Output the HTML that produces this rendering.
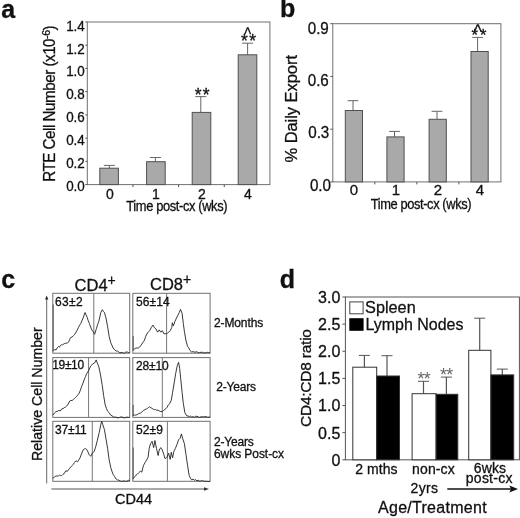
<!DOCTYPE html>
<html><head><meta charset="utf-8"><title>Figure</title>
<style>
html,body{margin:0;padding:0;background:#fff;}
svg text{stroke:#111;stroke-width:0.3px;}
svg{display:block;will-change:transform;font-family:"Liberation Sans",sans-serif;fill:#111;}
</style></head><body>
<svg width="520" height="518" viewBox="0 0 520 518">
<rect x="0" y="0" width="520" height="518" fill="#fff" stroke="none"/>
<text x="1.3" y="17.6" font-size="25" text-anchor="start" font-weight="bold">a</text>
<rect x="87.3" y="22.0" width="182.6" height="162.6" fill="none" stroke="#707070" stroke-width="1"/>
<line x1="85.3" y1="22.0" x2="87.3" y2="22.0" stroke="#555" stroke-width="1"/>
<text transform="translate(84.8 30.6) scale(0.926 1)" font-size="14.5" text-anchor="end">1.4</text>
<line x1="85.3" y1="45.22857142857143" x2="87.3" y2="45.22857142857143" stroke="#555" stroke-width="1"/>
<text transform="translate(84.8 53.5) scale(0.926 1)" font-size="14.5" text-anchor="end">1.2</text>
<line x1="85.3" y1="68.45714285714286" x2="87.3" y2="68.45714285714286" stroke="#555" stroke-width="1"/>
<text transform="translate(84.8 76.4) scale(0.926 1)" font-size="14.5" text-anchor="end">1.0</text>
<line x1="85.3" y1="91.68571428571428" x2="87.3" y2="91.68571428571428" stroke="#555" stroke-width="1"/>
<text transform="translate(84.8 99.4) scale(0.926 1)" font-size="14.5" text-anchor="end">0.8</text>
<line x1="85.3" y1="114.91428571428571" x2="87.3" y2="114.91428571428571" stroke="#555" stroke-width="1"/>
<text transform="translate(84.8 122.3) scale(0.926 1)" font-size="14.5" text-anchor="end">0.6</text>
<line x1="85.3" y1="138.14285714285714" x2="87.3" y2="138.14285714285714" stroke="#555" stroke-width="1"/>
<text transform="translate(84.8 145.2) scale(0.926 1)" font-size="14.5" text-anchor="end">0.4</text>
<line x1="85.3" y1="161.37142857142857" x2="87.3" y2="161.37142857142857" stroke="#555" stroke-width="1"/>
<text transform="translate(84.8 168.1) scale(0.926 1)" font-size="14.5" text-anchor="end">0.2</text>
<line x1="85.3" y1="184.6" x2="87.3" y2="184.6" stroke="#555" stroke-width="1"/>
<text transform="translate(84.8 191.0) scale(0.926 1)" font-size="14.5" text-anchor="end">0.0</text>
<line x1="132.95" y1="184.6" x2="132.95" y2="187.1" stroke="#555" stroke-width="1"/>
<line x1="178.59999999999997" y1="184.6" x2="178.59999999999997" y2="187.1" stroke="#555" stroke-width="1"/>
<line x1="224.25" y1="184.6" x2="224.25" y2="187.1" stroke="#555" stroke-width="1"/>
<line x1="109.4" y1="165.4" x2="109.4" y2="168.2" stroke="#666" stroke-width="1"/>
<line x1="103.9" y1="165.4" x2="114.9" y2="165.4" stroke="#666" stroke-width="1"/>
<rect x="99.8" y="168.2" width="18.6" height="16.4" fill="#a9a9a9" stroke="#505050" stroke-width="1"/>
<line x1="155.4" y1="157.5" x2="155.4" y2="161.7" stroke="#666" stroke-width="1"/>
<line x1="149.9" y1="157.5" x2="160.9" y2="157.5" stroke="#666" stroke-width="1"/>
<rect x="146.6" y="161.7" width="18.6" height="22.9" fill="#a9a9a9" stroke="#505050" stroke-width="1"/>
<line x1="200.8" y1="96.6" x2="200.8" y2="112.4" stroke="#666" stroke-width="1"/>
<line x1="195.3" y1="96.6" x2="206.3" y2="96.6" stroke="#666" stroke-width="1"/>
<rect x="192.2" y="112.4" width="18.6" height="72.2" fill="#a9a9a9" stroke="#505050" stroke-width="1"/>
<line x1="247.6" y1="43.2" x2="247.6" y2="54.8" stroke="#666" stroke-width="1"/>
<line x1="242.1" y1="43.2" x2="253.1" y2="43.2" stroke="#666" stroke-width="1"/>
<rect x="238.2" y="54.8" width="18.6" height="129.8" fill="#a9a9a9" stroke="#505050" stroke-width="1"/>
<text x="110" y="199" font-size="14" text-anchor="middle">0</text>
<text x="156" y="199" font-size="14" text-anchor="middle">1</text>
<text x="202" y="199" font-size="14" text-anchor="middle">2</text>
<text x="248" y="199" font-size="14" text-anchor="middle">4</text>
<text transform="translate(126.3 210.6) scale(0.92 1)" font-size="14" text-anchor="start" textLength="110.0" lengthAdjust="spacing">Time post-cx (wks)</text>
<text font-size="16.5" transform="translate(55 181.8) rotate(-90) scale(0.92 1)" textLength="170" lengthAdjust="spacing">RTE Cell Number (x10<tspan dy="-5" font-size="11.5">-6</tspan><tspan dy="5">)</tspan></text>
<text x="194.7" y="100.5" font-size="17.5" text-anchor="start" letter-spacing="1.3">**</text>
<text x="241.1" y="47.2" font-size="17.5" text-anchor="start" letter-spacing="1.3">**</text>
<text x="244.2" y="39.5" font-size="18.5" text-anchor="start" textLength="6.9" lengthAdjust="spacingAndGlyphs">^</text>
<text x="280" y="17.4" font-size="25" text-anchor="start" font-weight="bold">b</text>
<rect x="332.8" y="23.7" width="168.1" height="158.2" fill="none" stroke="#707070" stroke-width="1"/>
<line x1="330.3" y1="23.7" x2="332.8" y2="23.7" stroke="#555" stroke-width="1"/>
<text transform="translate(328.8 33.8) scale(0.921 1)" font-size="16.5" text-anchor="end">0.9</text>
<line x1="330.3" y1="76.43333333333334" x2="332.8" y2="76.43333333333334" stroke="#555" stroke-width="1"/>
<text transform="translate(328.8 85.9) scale(0.921 1)" font-size="16.5" text-anchor="end">0.6</text>
<line x1="330.3" y1="129.16666666666669" x2="332.8" y2="129.16666666666669" stroke="#555" stroke-width="1"/>
<text transform="translate(329.3 138.3) scale(0.921 1)" font-size="16.5" text-anchor="end">0.3</text>
<line x1="330.3" y1="181.9" x2="332.8" y2="181.9" stroke="#555" stroke-width="1"/>
<text transform="translate(331.0 191.1) scale(0.921 1)" font-size="16.5" text-anchor="end">0.0</text>
<line x1="374.825" y1="181.9" x2="374.825" y2="184.4" stroke="#555" stroke-width="1"/>
<line x1="416.85" y1="181.9" x2="416.85" y2="184.4" stroke="#555" stroke-width="1"/>
<line x1="458.875" y1="181.9" x2="458.875" y2="184.4" stroke="#555" stroke-width="1"/>
<line x1="353.0" y1="100.7" x2="353.0" y2="110.5" stroke="#666" stroke-width="1"/>
<line x1="347.6" y1="100.7" x2="358.4" y2="100.7" stroke="#666" stroke-width="1"/>
<rect x="345.3" y="110.5" width="17.2" height="71.4" fill="#a9a9a9" stroke="#505050" stroke-width="1"/>
<line x1="394.5" y1="131.4" x2="394.5" y2="136.9" stroke="#666" stroke-width="1"/>
<line x1="389.1" y1="131.4" x2="399.9" y2="131.4" stroke="#666" stroke-width="1"/>
<rect x="386.9" y="136.9" width="17.2" height="45.0" fill="#a9a9a9" stroke="#505050" stroke-width="1"/>
<line x1="437.0" y1="111.3" x2="437.0" y2="119.3" stroke="#666" stroke-width="1"/>
<line x1="431.6" y1="111.3" x2="442.4" y2="111.3" stroke="#666" stroke-width="1"/>
<rect x="429.1" y="119.3" width="17.2" height="62.6" fill="#a9a9a9" stroke="#505050" stroke-width="1"/>
<line x1="477.6" y1="37.4" x2="477.6" y2="51.5" stroke="#666" stroke-width="1"/>
<line x1="472.20000000000005" y1="37.4" x2="483.0" y2="37.4" stroke="#666" stroke-width="1"/>
<rect x="471.0" y="51.5" width="17.2" height="130.4" fill="#a9a9a9" stroke="#505050" stroke-width="1"/>
<text x="354" y="195" font-size="15" text-anchor="middle">0</text>
<text x="396" y="195" font-size="15" text-anchor="middle">1</text>
<text x="438" y="195" font-size="15" text-anchor="middle">2</text>
<text x="480" y="195" font-size="15" text-anchor="middle">4</text>
<text transform="translate(370.7 209) scale(0.92 1)" font-size="14" text-anchor="start" textLength="109.6" lengthAdjust="spacing">Time post-cx (wks)</text>
<text font-size="16.5" transform="translate(296.5 162.5) rotate(-90)" textLength="107.5" lengthAdjust="spacing">% Daily Export</text>
<text x="471.5" y="40.9" font-size="16.5" text-anchor="start" letter-spacing="2.1">**</text>
<text x="473.9" y="37.3" font-size="19" text-anchor="start" textLength="7.6" lengthAdjust="spacingAndGlyphs">^</text>
<text x="1.3" y="288" font-size="25" text-anchor="start" font-weight="bold">c</text>
<rect x="52.8" y="293.3" width="76.9" height="59.9" fill="none" stroke="#707070" stroke-width="1"/>
<rect x="132.8" y="293.3" width="77.3" height="59.9" fill="none" stroke="#707070" stroke-width="1"/>
<line x1="93.8" y1="293.3" x2="93.8" y2="353.2" stroke="#777" stroke-width="1"/>
<line x1="166.6" y1="293.3" x2="166.6" y2="353.2" stroke="#777" stroke-width="1"/>
<rect x="52.8" y="357.6" width="76.9" height="59.8" fill="none" stroke="#707070" stroke-width="1"/>
<rect x="132.8" y="357.6" width="77.3" height="59.8" fill="none" stroke="#707070" stroke-width="1"/>
<line x1="88.6" y1="357.6" x2="88.6" y2="417.4" stroke="#777" stroke-width="1"/>
<line x1="162.3" y1="357.6" x2="162.3" y2="417.4" stroke="#777" stroke-width="1"/>
<rect x="52.8" y="421.3" width="76.9" height="60.0" fill="none" stroke="#707070" stroke-width="1"/>
<rect x="132.8" y="421.3" width="77.3" height="60.0" fill="none" stroke="#707070" stroke-width="1"/>
<line x1="92.3" y1="421.3" x2="92.3" y2="481.3" stroke="#777" stroke-width="1"/>
<line x1="167.4" y1="421.3" x2="167.4" y2="481.3" stroke="#777" stroke-width="1"/>
<path d="M52.8,351.1 L54.7,349.6 L56.0,350.0 L57.1,348.0 L58.7,346.4 L59.5,347.2 L60.3,345.6 L61.4,344.8 L62.6,344.8 L64.2,343.7 L65.8,343.3 L67.4,342.8 L68.9,341.7 L69.7,339.3 L70.5,337.7 L72.1,337.0 L73.7,335.4 L74.8,334.2 L76.0,332.2 L77.2,330.1 L78.4,327.5 L79.6,325.2 L80.8,323.5 L81.9,320.8 L83.1,318.0 L85.0,312.5 L86.0,314.8 L87.1,317.2 L88.2,320.6 L89.4,323.5 L90.6,327.0 L91.8,329.9 L93.2,331.6 L94.6,334.3 L96.5,328.3 L97.7,324.2 L98.9,321.2 L100.8,312.5 L102.4,309.7 L103.4,311.5 L104.4,312.5 L106.0,318.0 L107.6,326.7 L109.1,336.2 L110.7,342.5 L111.9,345.2 L113.1,348.0 L114.7,349.9 L116.2,351.1 L117.4,351.0 L118.6,351.9 L119.8,352.6 L121.0,352.7 L122.2,352.4 L123.5,353.1 L124.7,353.0 L125.9,352.0 L127.2,352.0 L128.4,352.5 L129.7,352.4" fill="none" stroke="#222" stroke-width="0.9" stroke-linejoin="round"/>
<path d="M132.8,350.4 L134.7,348.8 L135.9,348.0 L137.1,348.0 L138.3,348.0 L139.5,347.2 L140.6,345.9 L141.8,344.1 L143.0,342.2 L144.2,340.9 L145.8,336.2 L147.4,333.0 L148.5,331.8 L149.7,330.6 L151.3,327.5 L152.9,325.1 L154.4,327.5 L156.0,329.1 L157.6,332.2 L159.2,329.9 L160.8,332.2 L162.3,330.6 L163.9,333.8 L165.3,333.7 L166.6,333.8 L167.6,333.2 L168.6,332.2 L170.2,330.6 L171.8,327.5 L172.3,322.8 L173.4,325.9 L175.0,321.2 L176.5,318.0 L178.1,314.9 L179.3,312.4 L180.5,309.4 L182.1,313.3 L183.3,323.5 L184.4,331.4 L186.0,340.9 L187.6,346.4 L188.8,347.9 L189.9,350.4 L191.8,352.1 L193.1,351.5 L195.0,352.4 L196.0,351.7 L197.0,351.9 L198.2,352.6 L199.4,352.6 L201.0,352.3 L202.6,352.3 L204.1,352.9 L205.7,352.9 L207.2,352.3 L208.7,352.7 L210.1,352.7" fill="none" stroke="#222" stroke-width="0.9" stroke-linejoin="round"/>
<path d="M52.8,415.1 L54.7,412.8 L55.9,411.7 L57.1,411.5 L58.7,410.4 L60.3,410.9 L61.8,408.8 L63.0,408.7 L64.2,407.7 L65.4,407.2 L66.6,406.2 L68.1,404.1 L69.7,401.0 L70.9,400.4 L72.1,400.5 L73.3,399.5 L74.4,398.6 L75.6,397.3 L76.8,396.2 L78.0,394.8 L79.2,393.1 L80.4,390.2 L81.5,386.8 L83.4,382.0 L84.5,378.8 L85.5,376.5 L86.7,373.6 L87.9,371.8 L89.0,369.8 L90.2,367.0 L91.4,365.4 L92.6,363.9 L94.5,363.1 L96.2,359.9 L97.3,363.1 L98.9,367.0 L100.5,374.9 L102.1,384.4 L103.6,395.4 L105.2,404.9 L106.4,408.3 L107.6,411.2 L109.1,412.6 L110.7,415.1 L112.0,415.8 L113.4,416.8 L114.7,417.2 L115.9,417.0 L117.0,417.8 L118.2,417.9 L119.4,417.5 L120.7,417.0 L122.0,417.0 L123.2,417.6 L124.5,418.0 L125.8,417.4 L127.1,417.2 L128.4,417.4 L129.7,417.5" fill="none" stroke="#222" stroke-width="0.9" stroke-linejoin="round"/>
<path d="M132.8,415.6 L134.2,415.0 L135.5,415.1 L137.1,414.7 L138.7,413.6 L140.3,413.1 L141.8,412.0 L143.4,410.5 L145.0,409.6 L146.2,409.0 L147.4,408.4 L148.5,407.5 L149.7,406.8 L150.9,407.7 L152.1,408.4 L153.3,409.3 L154.4,409.6 L155.6,409.6 L156.8,410.4 L158.0,410.1 L159.2,410.9 L160.8,411.6 L162.3,411.5 L163.5,410.5 L164.7,409.6 L165.9,408.7 L167.1,407.3 L168.2,405.1 L169.4,404.1 L171.3,400.2 L172.6,392.3 L174.2,382.8 L175.7,373.4 L177.3,365.5 L178.6,362.3 L179.7,368.6 L180.8,379.7 L182.1,392.3 L183.3,403.3 L184.9,412.8 L186.8,415.9 L188.0,416.0 L189.3,416.5 L190.6,416.1 L191.8,417.1 L193.1,416.7 L194.4,417.2 L195.7,416.3 L197.0,416.3 L198.3,416.9 L199.6,417.4 L201.0,416.8 L202.3,416.7 L203.6,416.9 L204.9,416.5 L206.2,416.8 L207.5,417.1 L208.8,417.2 L210.1,417.2" fill="none" stroke="#222" stroke-width="0.9" stroke-linejoin="round"/>
<path d="M52.8,478.4 L54.7,476.8 L55.9,476.0 L57.1,476.0 L58.3,476.0 L59.5,475.2 L60.6,475.7 L61.8,475.5 L63.0,474.3 L64.2,473.6 L65.8,470.8 L67.4,471.3 L68.5,469.7 L69.7,468.1 L70.9,466.9 L72.1,465.7 L73.3,464.3 L74.4,462.6 L76.0,460.7 L77.6,461.8 L78.8,460.1 L80.0,457.9 L81.5,453.9 L83.1,450.0 L84.3,448.9 L85.5,448.7 L86.5,449.2 L87.5,450.8 L89.1,454.7 L90.7,456.3 L92.3,453.1 L94.2,451.5 L95.7,446.8 L97.3,440.5 L99.2,432.6 L100.8,424.7 L101.7,421.3 L102.8,424.7 L104.4,429.5 L106.0,438.9 L107.6,448.4 L109.1,459.4 L110.7,467.3 L111.9,471.2 L113.1,474.4 L114.7,476.7 L116.2,479.1 L117.6,480.1 L118.9,480.0 L120.2,481.2 L121.5,481.1 L122.9,481.3 L124.2,480.7 L125.6,481.4 L126.9,481.3 L128.3,480.3 L129.7,480.7" fill="none" stroke="#222" stroke-width="0.9" stroke-linejoin="round"/>
<path d="M132.8,479.1 L134.7,476.8 L135.9,475.2 L137.1,474.4 L138.7,472.8 L140.3,471.3 L141.8,472.1 L143.4,465.7 L145.0,462.6 L146.6,460.2 L148.1,457.1 L149.2,448.4 L150.5,443.7 L152.1,441.3 L153.7,447.6 L154.9,440.5 L156.5,448.4 L158.1,455.5 L159.2,450.0 L160.8,447.6 L162.3,450.0 L163.9,454.7 L165.0,458.6 L166.0,458.2 L167.1,457.1 L168.6,453.1 L170.2,459.4 L171.3,452.3 L172.6,457.9 L173.8,451.5 L175.4,448.4 L177.0,444.4 L178.6,439.7 L180.2,438.1 L181.4,433.9 L182.8,438.9 L184.4,443.7 L186.0,454.7 L187.6,465.7 L189.1,475.2 L190.7,478.7 L191.8,479.9 L193.1,479.0 L194.4,480.3 L195.5,479.6 L197.0,480.9 L198.1,480.1 L199.2,480.9 L200.2,481.2 L201.4,480.7 L202.6,480.7 L203.7,481.0 L204.9,481.4 L206.2,481.3 L207.5,481.4 L208.8,481.6 L210.1,481.2" fill="none" stroke="#222" stroke-width="0.9" stroke-linejoin="round"/>
<line x1="53.2" y1="304.5" x2="53.2" y2="351.2" stroke="#555" stroke-width="1.0"/>
<line x1="133.2" y1="336.2" x2="133.2" y2="350.5" stroke="#555" stroke-width="1.0"/>
<line x1="133.2" y1="405" x2="133.2" y2="416" stroke="#555" stroke-width="1.0"/>
<line x1="133.2" y1="447.6" x2="133.2" y2="479.3" stroke="#555" stroke-width="1.0"/>
<text x="74.6" y="291" font-size="16.5">CD4<tspan dy="-5.9" font-size="14">+</tspan></text>
<text x="150" y="290" font-size="16.5">CD8<tspan dy="-5.9" font-size="14">+</tspan></text>
<text x="55.0" y="305.9" font-size="12" text-anchor="start" textLength="27.6" lengthAdjust="spacing">63±2</text>
<text x="136.0" y="305.9" font-size="12" text-anchor="start" textLength="33.6" lengthAdjust="spacing">56±14</text>
<text x="52.3" y="368.9" font-size="12" text-anchor="start" textLength="31.8" lengthAdjust="spacing">19±10</text>
<text x="136.0" y="369.9" font-size="12" text-anchor="start" textLength="32.8" lengthAdjust="spacing">28±10</text>
<text x="55.0" y="434.2" font-size="12" text-anchor="start" textLength="31.8" lengthAdjust="spacing">37±11</text>
<text x="136.0" y="434.2" font-size="12" text-anchor="start" textLength="27.0" lengthAdjust="spacing">52±9</text>
<text x="214.0" y="327" font-size="12" text-anchor="start" textLength="49.2" lengthAdjust="spacing">2-Months</text>
<text x="216.2" y="391" font-size="12" text-anchor="start" textLength="39.8" lengthAdjust="spacing">2-Years</text>
<text x="214.0" y="446.1" font-size="12" text-anchor="start" textLength="39.8" lengthAdjust="spacing">2-Years</text>
<text x="214.0" y="457.9" font-size="12" text-anchor="start" textLength="70" lengthAdjust="spacing">6wks Post-cx</text>
<line x1="46.7" y1="483.4" x2="46.7" y2="298" stroke="#666" stroke-width="1"/>
<path d="M46.7,295.4 L45.1,299.6 L48.3,299.6 Z" fill="#222"/>
<line x1="51.4" y1="489" x2="206" y2="489" stroke="#555" stroke-width="1"/>
<path d="M209,489 L204,487.3 L204,490.7 Z" fill="#333"/>
<text font-size="15" transform="translate(41.7 461) rotate(-90) scale(0.944 1)">Relative Cell Number</text>
<text x="115" y="504" font-size="14.5" text-anchor="start" textLength="37" lengthAdjust="spacing">CD44</text>
<text x="279.8" y="288" font-size="25" text-anchor="start" font-weight="bold">d</text>
<rect x="345.4" y="297.0" width="174.0" height="162.8" fill="none" stroke="#555" stroke-width="1"/>
<line x1="342.4" y1="297.0" x2="345.4" y2="297.0" stroke="#555" stroke-width="1"/>
<text x="340.3" y="302.8" font-size="16" text-anchor="end">3.0</text>
<line x1="342.4" y1="324.1333333333333" x2="345.4" y2="324.1333333333333" stroke="#555" stroke-width="1"/>
<text x="340.3" y="329.9" font-size="16" text-anchor="end">2.5</text>
<line x1="342.4" y1="351.26666666666665" x2="345.4" y2="351.26666666666665" stroke="#555" stroke-width="1"/>
<text x="340.3" y="357.1" font-size="16" text-anchor="end">2.0</text>
<line x1="342.4" y1="378.4" x2="345.4" y2="378.4" stroke="#555" stroke-width="1"/>
<text x="340.3" y="384.2" font-size="16" text-anchor="end">1.5</text>
<line x1="342.4" y1="405.53333333333336" x2="345.4" y2="405.53333333333336" stroke="#555" stroke-width="1"/>
<text x="340.3" y="411.3" font-size="16" text-anchor="end">1.0</text>
<line x1="342.4" y1="432.66666666666663" x2="345.4" y2="432.66666666666663" stroke="#555" stroke-width="1"/>
<text x="340.3" y="438.5" font-size="16" text-anchor="end">0.5</text>
<line x1="342.4" y1="459.8" x2="345.4" y2="459.8" stroke="#555" stroke-width="1"/>
<text x="340.3" y="465.6" font-size="16" text-anchor="end">0</text>
<line x1="364.4" y1="355.4" x2="364.4" y2="367.2" stroke="#555" stroke-width="1.2"/>
<line x1="358.9" y1="355.4" x2="369.9" y2="355.4" stroke="#555" stroke-width="1"/>
<rect x="352.8" y="367.2" width="23.9" height="92.6" fill="#fff" stroke="#333" stroke-width="1"/>
<line x1="387.0" y1="355.7" x2="387.0" y2="376.0" stroke="#555" stroke-width="1.2"/>
<line x1="381.5" y1="355.7" x2="392.5" y2="355.7" stroke="#555" stroke-width="1"/>
<rect x="376.7" y="376.0" width="22.8" height="83.8" fill="#000" stroke="#333" stroke-width="1"/>
<line x1="423.5" y1="381.3" x2="423.5" y2="393.7" stroke="#555" stroke-width="1.2"/>
<line x1="418.0" y1="381.3" x2="429.0" y2="381.3" stroke="#555" stroke-width="1"/>
<rect x="412.1" y="393.7" width="24.0" height="66.1" fill="#fff" stroke="#333" stroke-width="1"/>
<line x1="446.4" y1="377.1" x2="446.4" y2="394.3" stroke="#555" stroke-width="1.2"/>
<line x1="440.9" y1="377.1" x2="451.9" y2="377.1" stroke="#555" stroke-width="1"/>
<rect x="436.1" y="394.3" width="21.7" height="65.5" fill="#000" stroke="#333" stroke-width="1"/>
<line x1="479.7" y1="318.2" x2="479.7" y2="350.3" stroke="#555" stroke-width="1.2"/>
<line x1="474.2" y1="318.2" x2="485.2" y2="318.2" stroke="#555" stroke-width="1"/>
<rect x="468.7" y="350.3" width="22.2" height="109.5" fill="#fff" stroke="#333" stroke-width="1"/>
<line x1="502.3" y1="369.1" x2="502.3" y2="374.9" stroke="#555" stroke-width="1.2"/>
<line x1="496.8" y1="369.1" x2="507.8" y2="369.1" stroke="#555" stroke-width="1"/>
<rect x="490.9" y="374.9" width="22.8" height="84.9" fill="#000" stroke="#333" stroke-width="1"/>
<rect x="349.8" y="301.9" width="13.3" height="11.9" fill="#fff" stroke="#444" stroke-width="1"/>
<rect x="349.3" y="318.2" width="14.3" height="12.6" fill="#000"/>
<text transform="translate(365.1 313.4) scale(0.956 1)" font-size="17" text-anchor="start">Spleen</text>
<text transform="translate(365.5 330.3) scale(0.94 1)" font-size="17" text-anchor="start">Lymph Nodes</text>
<text x="417.4" y="384.5" font-size="18" text-anchor="start" letter-spacing="-0.65" fill="#666" stroke="none" style="stroke:none">**</text>
<text x="439.9" y="380.7" font-size="18" text-anchor="start" letter-spacing="-0.65" fill="#666" stroke="none" style="stroke:none">**</text>
<text x="355.2" y="473.7" font-size="14" text-anchor="start" textLength="42.3" lengthAdjust="spacing">2 mths</text>
<text x="412.1" y="473.7" font-size="14" text-anchor="start" textLength="42.6" lengthAdjust="spacing">non-cx</text>
<text x="473.8" y="473.3" font-size="14" text-anchor="start" textLength="32.2" lengthAdjust="spacing">6wks</text>
<text x="465.8" y="483" font-size="14" text-anchor="start" textLength="46.6" lengthAdjust="spacing">post-cx</text>
<text x="410.6" y="493.2" font-size="14" text-anchor="start" textLength="27.4" lengthAdjust="spacing">2yrs</text>
<line x1="447.3" y1="489" x2="512" y2="489" stroke="#111" stroke-width="1.5"/>
<path d="M518,489 L509.3,485.5 L511,489 L509.3,492.5 Z" fill="#111"/>
<text x="378" y="513" font-size="16" text-anchor="start" textLength="108.6" lengthAdjust="spacing">Age/Treatment</text>
<text font-size="15.5" transform="translate(310.7 427) rotate(-90)" textLength="98" lengthAdjust="spacing">CD4:CD8 ratio</text>
</svg>
</body></html>
